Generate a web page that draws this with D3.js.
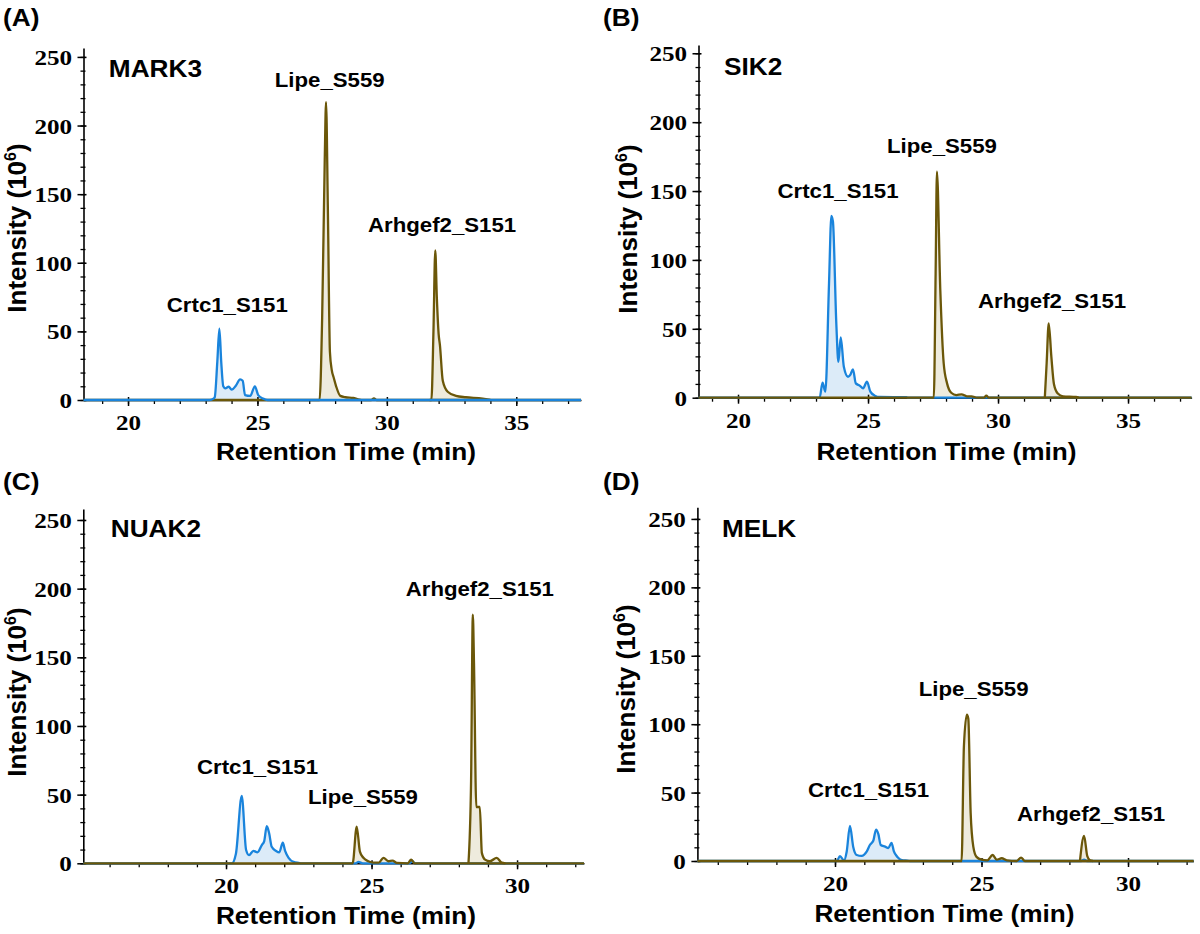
<!DOCTYPE html>
<html><head><meta charset="utf-8">
<script src="https://cdn.jsdelivr.net/npm/d3@7"></script>
<style>body{margin:0;background:#fff}</style>
</head><body><svg id="chart" width="1200" height="934"></svg>
<script>
// ---------- data (retention time [min], intensity [10^6]) ----------
const panelLetters = ["(A)", "(B)", "(C)", "(D)"];
const kinases = ["MARK3", "SIK2", "NUAK2", "MELK"];
const peptides = ["Crtc1_S151", "Lipe_S559", "Arhgef2_S151"];
const yTickValues = [0, 50, 100, 150, 200, 250];
const xTicksAB = [20, 25, 30, 35];
const xTicksCD = [20, 25, 30];

const markCrtc1 = [[18.28,0],[23.15,0],[23.3,1],[23.35,2],[23.45,28],[23.53,52],[23.6,28],[23.68,10],[23.76,8.5],[23.89,9.7],[24.0,7.5],[24.17,10.5],[24.33,15],[24.43,14],[24.52,3.6],[24.72,3],[24.9,10],[25.03,3.6],[25.22,1],[25.4,0],[37.5,0]];
const markLipe = [[18.28,0],[27.4,0],[27.5,60],[27.6,175],[27.65,217],[27.72,140],[27.8,35],[27.87,22],[27.95,16],[28.04,10],[28.2,3],[28.4,2],[28.7,1.5],[28.9,0.5],[29.1,0],[29.4,0],[29.5,1.2],[29.6,0],[37.5,0]];
const markArhgef2 = [[31.65,0],[31.72,0],[31.8,50],[31.87,109],[31.93,75],[32.0,48],[32.05,40],[32.16,14],[32.35,6],[32.67,3],[33.05,2],[33.7,1],[34.0,0]];

const sik2Crtc1 = [[18.48,0],[23.14,0],[23.25,10.9],[23.36,4.4],[23.5,83],[23.59,132],[23.65,128],[23.78,54],[23.86,26],[23.95,43.8],[24.07,22.5],[24.23,15.2],[24.33,17],[24.42,20.6],[24.53,10.4],[24.68,8.8],[24.81,6.8],[24.96,11.6],[25.09,4.4],[25.26,1.5],[25.45,0.5],[26.48,0.4],[26.55,0],[37.445,0]];
const sik2Lipe = [[18.48,0],[27.53,0],[27.6,90],[27.65,164],[27.78,78],[27.91,25],[28.04,10.4],[28.2,3.6],[28.4,1.9],[28.6,2.4],[28.8,1],[28.98,1],[29.2,0],[29.45,0],[29.55,1.5],[29.65,0],[37.445,0]];
const sik2Arhgef2 = [[31.8,0],[31.87,25],[31.95,54],[32.05,30],[32.15,10],[32.3,3],[32.5,1],[33.0,0.5],[33.1,0]];

const nuakCrtc1 = [[15.1,0],[20.2,0],[20.34,7],[20.54,49],[20.69,9.7],[20.79,6],[20.94,9],[21.08,8],[21.23,13.3],[21.31,16],[21.4,27],[21.48,22],[21.57,12],[21.72,9],[21.83,8],[21.95,15],[22.03,9],[22.15,4],[22.32,1],[22.5,0.3],[22.6,0],[24.45,0],[24.55,1],[24.7,0],[26.3,0],[26.4,1.5],[26.5,0],[32.3,0]];
const nuakLipe = [[15.1,0],[24.35,0],[24.49,26.7],[24.6,8.5],[24.72,4],[24.89,1.5],[25.05,0.5],[25.25,0.5],[25.41,4],[25.58,1.5],[25.72,2],[25.87,0.3],[26.25,0],[26.36,2.7],[26.48,0],[32.3,0]];
const nuakArhgef2 = [[28.33,0],[28.42,60],[28.48,181],[28.52,146],[28.6,41],[28.72,41],[28.79,7.6],[28.9,2.7],[29.07,1.5],[29.3,4],[29.47,0.5],[29.6,0]];

const melkCrtc1 = [[15.3,0],[20.06,0],[20.17,3.5],[20.31,0.5],[20.4,7],[20.51,25.6],[20.62,10.5],[20.74,4.4],[20.91,3.7],[21.08,6.8],[21.19,11.7],[21.31,15],[21.4,23],[21.48,19.6],[21.56,11.7],[21.71,10.5],[21.82,9.5],[21.93,13.3],[22.01,7],[22.13,3],[22.28,0.7],[22.48,0.3],[22.6,0],[28.4,0],[28.5,1],[28.6,0],[32.24,0]];
const melkLipe = [[15.3,0],[24.32,0],[24.4,84],[24.5,107],[24.55,104],[24.63,35],[24.72,10.5],[24.83,3],[25.0,1],[25.2,0.5],[25.38,4.4],[25.52,1],[25.69,2],[25.86,0.5],[26.2,0],[26.35,2.5],[26.48,0],[32.24,0]];
const melkArhgef2 = [[28.36,0],[28.5,18.3],[28.61,3.5],[28.7,0.5],[28.8,0]];

// ---------- styling / layout ----------
const BLUE = "#1a84dc", BLUE_FILL = "#dcebf8";
const OLIVE = "#6b5709", OLIVE_FILL = "#eeebdd";
const SANS = '"Liberation Sans", Arial, sans-serif';
const SERIF = '"Liberation Serif", "Times New Roman", serif';
const SX = 1.14; // horizontal stretch of the original figure's text

const panels = [
  {letter:panelLetters[0], kinase:kinases[0], series:[markCrtc1, markLipe, markArhgef2], blueOnTop:true,
   left:83.5, right:581, top:48, bottom:400, xDomain:[18.28,37.5], yMax:256.5, xTicks:xTicksAB,
   letterPos:[3,26], kinasePos:[108.8,77], labelPos:[[166.8,311.7],[274.8,86.7],[368,231.7]],
   xTitle:[346,460], yTitle:[26,228]},
  {letter:panelLetters[1], kinase:kinases[1], series:[sik2Crtc1, sik2Lipe, sik2Arhgef2], blueOnTop:false,
   left:698.5, right:1191.6, top:45, bottom:397.7, xDomain:[18.48,37.445], yMax:256, xTicks:xTicksAB,
   letterPos:[603,26], kinasePos:[724,75], labelPos:[[777.5,198],[887,153],[978,308]],
   xTitle:[946.5,460], yTitle:[636.5,229]},
  {letter:panelLetters[2], kinase:kinases[2], series:[nuakCrtc1, nuakLipe, nuakArhgef2], blueOnTop:false,
   left:83.3, right:584, top:509, bottom:863.3, xDomain:[15.096,32.3], yMax:258, xTicks:xTicksCD,
   letterPos:[3,490], kinasePos:[110.7,537.3], labelPos:[[197,774],[308,804],[405.7,595.7]],
   xTitle:[346,924], yTitle:[26,692]},
  {letter:panelLetters[3], kinase:kinases[3], series:[melkCrtc1, melkLipe, melkArhgef2], blueOnTop:false,
   left:697.4, right:1193.5, top:507.3, bottom:861, xDomain:[15.304,32.235], yMax:258.5, xTicks:xTicksCD,
   letterPos:[603,490], kinasePos:[722,537.3], labelPos:[[808,797.3],[918.7,695.7],[1017,820.7]],
   xTitle:[944.5,922], yTitle:[634.7,689]}
];

const svg = d3.select("#chart");

function stretchedText(g, x, y, str, size, anchor) {
  return g.append("text")
    .attr("transform", `translate(${x},${y}) scale(${SX},1)`)
    .attr("text-anchor", anchor || "start")
    .style("font-family", SANS)
    .style("font-weight", "bold")
    .style("font-size", size + "px")
    .attr("fill", "#000")
    .text(str);
}

panels.forEach(p => {
  const g = svg.append("g");
  const x = d3.scaleLinear().domain(p.xDomain).range([p.left, p.right]);
  const y = d3.scaleLinear().domain([0, p.yMax]).range([p.bottom, p.top]);

  const area = d3.area().x(d => x(d[0])).y0(y(0)).y1(d => y(d[1])).curve(d3.curveMonotoneX);
  const line = d3.line().x(d => x(d[0])).y(d => y(d[1])).curve(d3.curveMonotoneX);

  const blue = [p.series[0]];
  const olive = [p.series[1], p.series[2]];

  // fills
  const fillOrder = p.blueOnTop ? [[olive, OLIVE_FILL], [blue, BLUE_FILL]] : [[blue, BLUE_FILL], [olive, OLIVE_FILL]];
  fillOrder.forEach(([arr, c]) => arr.forEach(s =>
    g.append("path").datum(s).attr("d", area).attr("fill", c)));

  // axes
  const yMinor = d3.range(0, 251, 10);
  const yAxisMinor = g.append("g").attr("transform", `translate(${p.left},0)`)
    .call(d3.axisLeft(y).tickValues(yMinor).tickSize(3).tickSizeOuter(0).tickFormat(""));
  yAxisMinor.selectAll(".tick line").attr("x1", 2).attr("x2", -3).attr("stroke-width", 1.3);
  yAxisMinor.select(".domain").remove();

  const yAxis = g.append("g").attr("transform", `translate(${p.left},0)`)
    .call(d3.axisLeft(y).tickValues(yTickValues).tickSize(6).tickSizeOuter(0));
  yAxis.attr("font-family", null).attr("font-size", null);
  yAxis.select(".domain").attr("stroke-width", 1.6);
  yAxis.selectAll(".tick line").attr("x1", 3).attr("x2", -6).attr("stroke-width", 1.5);
  yAxis.selectAll(".tick text")
    .attr("x", null).attr("dy", null)
    .attr("transform", `translate(-11.5,7.5) scale(${SX},1)`)
    .style("font-family", SERIF).style("font-weight", "bold").style("font-size", "22px")
    .attr("fill", "#000");

  const xMinor = d3.range(Math.ceil(p.xDomain[0]), Math.floor(p.xDomain[1]) + 1);
  const xAxisMinor = g.append("g").attr("transform", `translate(0,${p.bottom})`)
    .call(d3.axisBottom(x).tickValues(xMinor).tickSize(4).tickSizeOuter(0).tickFormat(""));
  xAxisMinor.selectAll(".tick line").attr("stroke-width", 1.3);
  xAxisMinor.select(".domain").remove();

  const xAxis = g.append("g").attr("transform", `translate(0,${p.bottom})`)
    .call(d3.axisBottom(x).tickValues(p.xTicks).tickSize(6).tickSizeOuter(0));
  xAxis.attr("font-family", null).attr("font-size", null);
  xAxis.select(".domain").attr("stroke-width", 1.6);
  xAxis.selectAll(".tick line").attr("y1", -3).attr("y2", 6).attr("stroke-width", 1.5);
  xAxis.selectAll(".tick text")
    .attr("y", null).attr("dy", null)
    .attr("transform", `translate(0,30) scale(${SX},1)`)
    .style("font-family", SERIF).style("font-weight", "bold").style("font-size", "22px")
    .attr("fill", "#000");

  // lines
  const lineOrder = p.blueOnTop ? [[olive, OLIVE], [blue, BLUE]] : [[blue, BLUE], [olive, OLIVE]];
  lineOrder.forEach(([arr, c]) => arr.forEach(s =>
    g.append("path").datum(s).attr("d", line).attr("fill", "none")
      .attr("stroke", c).attr("stroke-width", 2.3).attr("stroke-linejoin", "round")));

  // texts
  stretchedText(g, p.letterPos[0], p.letterPos[1], p.letter, 23);
  stretchedText(g, p.kinasePos[0], p.kinasePos[1], p.kinase, 23);
  peptides.forEach((t, i) => stretchedText(g, p.labelPos[i][0], p.labelPos[i][1], t, 19.5));
  stretchedText(g, p.xTitle[0], p.xTitle[1], "Retention Time (min)", 23, "middle");

  const yt = g.append("text")
    .attr("transform", `translate(${p.yTitle[0]},${p.yTitle[1]}) rotate(-90)`)
    .attr("text-anchor", "middle")
    .style("font-family", SANS).style("font-weight", "bold").style("font-size", "26px")
    .attr("fill", "#000");
  yt.append("tspan").text("Intensity (10");
  yt.append("tspan").attr("dy", -10).style("font-size", "16px").text("6");
  yt.append("tspan").attr("dy", 10).text(")");
});
</script>
</body></html>
